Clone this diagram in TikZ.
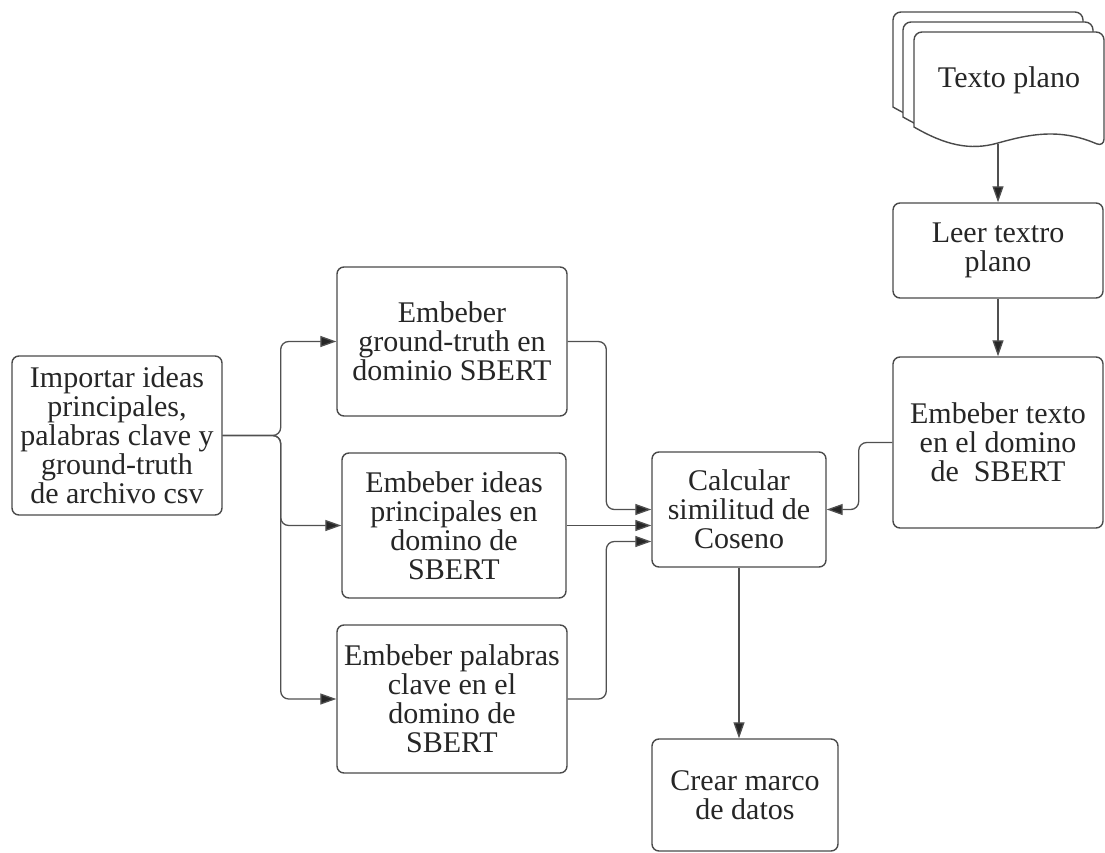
\documentclass[tikz,border=0pt]{standalone}
\usepackage{fontspec}
\setmainfont{Liberation Serif}
\usetikzlibrary{arrows.meta,calc}

\definecolor{boxgray}{HTML}{4A4A4A}
\definecolor{linegray}{HTML}{505050}
\definecolor{textgray}{HTML}{262626}

\newcommand\labelfont{\rmfamily\fontsize{30}{29}\selectfont}

\begin{document}
\begin{tikzpicture}[x=1pt,y=-1pt,
  procbox/.style={draw=boxgray, line width=1.4pt, rounded corners=7pt, fill=white,
    align=center, inner sep=0pt, text=textgray, font=\labelfont},
  flow/.style={draw=linegray, line width=1.3pt, rounded corners=8pt,
    -{Triangle[length=16pt,width=11pt,fill=textgray]}},
  sheet/.style={draw=boxgray, line width=1.4pt, fill=white}
]
\useasboundingbox (0,0) rectangle (1105,853);

% stacked document symbol (three sheets, back to front)
\foreach \dx/\dy in {-21/-20, -11/-10, 0/0}{
  \begin{scope}[shift={(\dx,\dy)}]
    \path[sheet] (914,127) [rounded corners=8pt] -- (914,32) -- (1104,32) -- (1104,147)
      [sharp corners] .. controls (1060,128) and (1030,134) .. (998,143)
      .. controls (970,151) and (945,145) .. (914,127) -- cycle;
  \end{scope}
}
\node[text=textgray, font=\labelfont, inner sep=0pt] (doc) at (1009,80) {Texto plano};
\coordinate (docbottom) at (998,144);

% process boxes
\node[procbox, minimum width=210pt, minimum height=159pt] (imp) at (117,435.5)
  {Importar ideas\\principales,\\palabras clave y\\ground-truth\\de archivo csv};
\node[procbox, minimum width=230pt, minimum height=149pt] (emb1) at (452,341.5)
  {Embeber\\ground-truth en\\dominio SBERT};
\node[procbox, minimum width=224pt, minimum height=145pt] (emb2) at (454,525.5)
  {Embeber ideas\\principales en\\domino de\\SBERT};
\node[procbox, minimum width=230pt, minimum height=148pt] (emb3) at (452,699)
  {Embeber palabras\\clave en el\\domino de\\SBERT};
\node[procbox, minimum width=174pt, minimum height=115pt] (calc) at (739,509.5)
  {Calcular\\similitud de\\Coseno};
\node[procbox, minimum width=186pt, minimum height=112pt] (crear) at (745,795)
  {Crear marco\\de datos};
\node[procbox, minimum width=210pt, minimum height=95pt] (leer) at (998,250.5)
  {Leer textro\\plano};
\node[procbox, minimum width=210pt, minimum height=171pt] (txt) at (998,442.5)
  {Embeber texto\\en el domino\\de\ \ SBERT};

% fork from the import step
\coordinate (fork) at ([xshift=58pt]imp.east);
\draw[flow] (imp.east) -- (fork) |- (emb1.west);
\draw[flow] (imp.east) -- (fork) |- (emb2.west);
\draw[flow] (imp.east) -- (fork) |- (emb3.west);

% embeddings into the cosine similarity step
\draw[flow] (emb1.east) -| ($(calc.west)+(-45,0)$) -- (calc.west);
\draw[flow] (emb2.east) -- (calc.west |- emb2.east);
\draw[flow] (emb3.east) -| ($(calc.west)+(-45,32)$) -- ($(calc.west)+(0,32)$);
\draw[flow] (txt.west) -| ($(calc.east)+(32,0)$) -- (calc.east);

% plain text branch
\draw[flow] (docbottom) -- (leer.north);
\draw[flow] (leer.south) -- (txt.north);

% output
\draw[flow] (calc.south) -- (calc.south |- crear.north);
\end{tikzpicture}
\end{document}
